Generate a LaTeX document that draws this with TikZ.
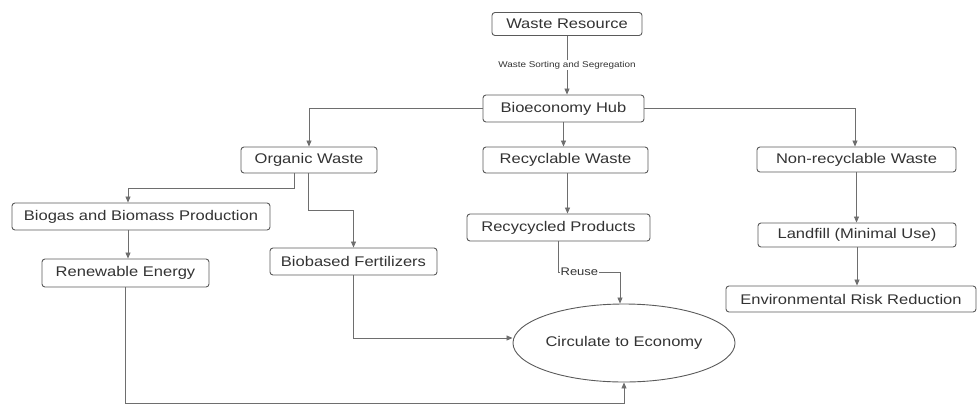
\documentclass[tikz,border=0pt]{standalone}
\usepackage{fontspec}
\setmainfont{Liberation Sans}[FakeStretch=1.18]
\usetikzlibrary{arrows.meta,shapes.geometric}
\definecolor{edge}{HTML}{5A5A5A}
\definecolor{ink}{HTML}{333333}
\definecolor{wire}{HTML}{6E6E6E}
\tikzset{
  box/.style={draw=edge, line width=0.9pt, rounded corners=3pt, fill=white,
    text=ink, font=\fontsize{14}{16}\selectfont, inner sep=0pt, align=center},
  oval/.style={draw=edge, line width=0.9pt, ellipse, fill=white, text=ink,
    font=\fontsize{14}{16}\selectfont, inner sep=0pt},
  arr/.style={draw=wire, line width=0.8pt, -{Triangle[width=5pt,length=6pt]}},
  wire/.style={draw=wire, line width=0.8pt},
  lbl/.style={fill=white, text=ink, inner sep=1pt},
}
\begin{document}
\begin{tikzpicture}[x=1pt,y=-1pt]
\useasboundingbox (0,0) rectangle (977,405);

% boxes
\node[box, minimum width=150pt, minimum height=23pt] (wr) at (567,24) {Waste Resource};
\node[box, minimum width=161pt, minimum height=27pt] (hub) at (563.5,108.5) {Bioeconomy Hub};
\node[box, minimum width=136pt, minimum height=26pt] (ow) at (309,160) {Organic Waste};
\node[box, minimum width=165pt, minimum height=26pt] (rw) at (565.5,160) {Recyclable Waste};
\node[box, minimum width=199pt, minimum height=25pt] (nw) at (856.5,159.5) {Non-recyclable Waste};
\node[box, minimum width=258pt, minimum height=27pt] (bg) at (141,216.5) {Biogas and Biomass Production};
\node[box, minimum width=167pt, minimum height=28pt] (re) at (125.5,273) {Renewable Energy};
\node[box, minimum width=167pt, minimum height=27pt] (bf) at (353.5,261.5) {Biobased Fertilizers};
\node[box, minimum width=183pt, minimum height=27pt] (rp) at (558.5,227.5) {Recycycled Products};
\node[box, minimum width=198pt, minimum height=24pt] (lf) at (857,235) {Landfill (Minimal Use)};
\node[box, minimum width=250pt, minimum height=26pt] (er) at (851,299) {Environmental Risk Reduction};
\node[oval, minimum width=222pt, minimum height=78pt] (ce) at (624,343) {Circulate to Economy};

\coordinate (base) at (0,403);
\coordinate (reuse) at (620,272);

% connectors
\draw[arr] (wr.south) -- node[lbl, font=\fontsize{8.4}{10}\selectfont] {Waste Sorting and Segregation} (hub.north -| wr.south);
\draw[arr] (hub.west) -| (ow.north);
\draw[arr] (hub.south) -- (hub.south |- rw.north);
\draw[arr] (hub.east) -| ([xshift=-1.5pt]nw.north);

\draw[arr] ([xshift=-15pt]ow.south) -- ++(0,15) -| ([xshift=-13pt]bg.north);
\draw[arr] ([xshift=-1pt]ow.south) -- ++(0,37) -| (bf.north);
\draw[arr] ([xshift=-13pt]bg.south) -- ([xshift=-13pt]bg.south |- re.north);
\draw[arr] (re.south) -- (re.south |- base) -| (ce.south);
\draw[arr] (bf.south) |- ([yshift=5pt]ce.west);

\draw[arr] ([xshift=2pt]rw.south) -- ([xshift=2pt]rw.south |- rp.north);
\draw[arr] (rp.south) |- node[lbl, pos=0.67, font=\fontsize{11}{13}\selectfont] {Reuse} (reuse) -- ([xshift=-4pt]ce.north);

\draw[arr] (nw.south) -- (nw.south |- lf.north);
\draw[arr] (lf.south) -- (lf.south |- er.north);
\end{tikzpicture}
\end{document}
